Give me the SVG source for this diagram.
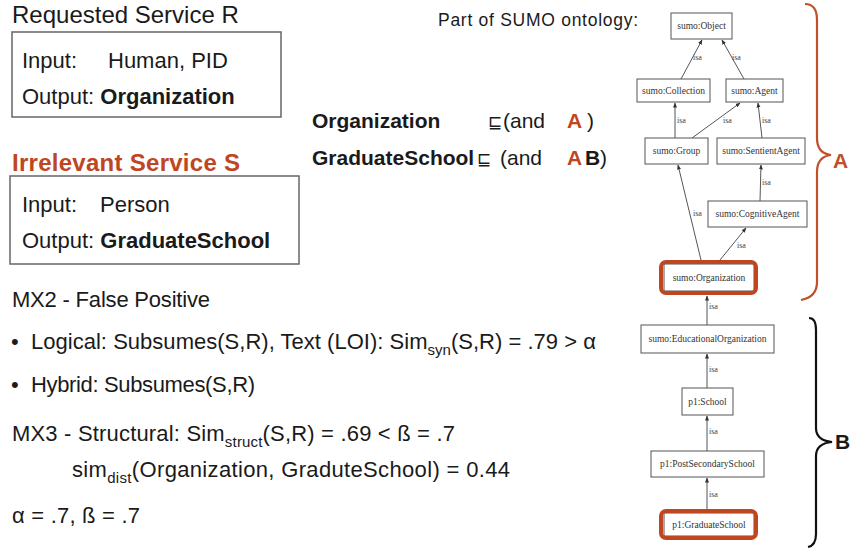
<svg xmlns="http://www.w3.org/2000/svg" width="851" height="550" viewBox="0 0 851 550">
  <defs>
    <marker id="arr" viewBox="0 0 10 10" refX="9" refY="5" markerWidth="5" markerHeight="5" orient="auto" markerUnits="userSpaceOnUse">
      <path d="M0,1 L10,5 L0,9 Z" fill="#333"/>
    </marker>
    <style>
      .t { font-family: "Liberation Sans", "DejaVu Sans", sans-serif; fill: #1a1a1a; }
      .b { font-weight: bold; }
      .red { fill: #c0461f; }
      .box { fill: #fff; stroke: #666; stroke-width: 1.5; }
      .node rect { fill: #fff; stroke: #555; stroke-width: 1; }
      .node rect.hl { fill: none; stroke: #c0461f; stroke-width: 4; }
      .node text { font-family: "Liberation Serif", "DejaVu Serif", serif; font-size: 9.5px; fill: #333; text-anchor: middle; }
      .edge { stroke: #555; stroke-width: 1; fill: none; marker-end: url(#arr); }
      .isa { font-family: "Liberation Serif", "DejaVu Serif", serif; font-size: 8px; fill: #444; }
      .sub { font-size: 15px; }
      .sq { font-family: "DejaVu Sans", sans-serif; font-size: 17px; fill: #1a1a1a; }
    </style>
  </defs>
  <rect width="851" height="550" fill="#fff"/>

  <!-- Requested service -->
  <g id="requested">
    <text class="t" x="12" y="23" font-size="24">Requested Service R</text>
    <rect class="box" x="12" y="32" width="269" height="85"/>
    <text class="t" x="22" y="68" font-size="22">Input:</text>
    <text class="t" x="108" y="68" font-size="22">Human, PID</text>
    <text class="t" x="22" y="104" font-size="22">Output: <tspan class="b">Organization</tspan></text>
  </g>

  <!-- Irrelevant service -->
  <g id="irrelevant">
    <text class="t b red" x="12" y="171" font-size="24" textLength="228">Irrelevant Service S</text>
    <rect class="box" x="10" y="176" width="289" height="88"/>
    <text class="t" x="22" y="212" font-size="22">Input:</text>
    <text class="t" x="100" y="212" font-size="22">Person</text>
    <text class="t" x="22" y="248" font-size="22">Output: <tspan class="b">GraduateSchool</tspan></text>
  </g>

  <!-- Subsumption axioms -->
  <g id="axioms">
    <text class="t b" x="312" y="128" font-size="21">Organization</text>
    <text class="sq" x="488" y="128">⊑</text>
    <text class="t" x="503" y="128" font-size="21">(and</text>
    <text class="t b red" x="567" y="128" font-size="21">A</text>
    <text class="t" x="587" y="128" font-size="21">)</text>
    <text class="t b" x="312" y="165" font-size="21">GraduateSchool</text>
    <text class="sq" x="477" y="165">⊑</text>
    <text class="t" x="500" y="165" font-size="21">(and</text>
    <text class="t b red" x="567" y="165" font-size="21">A</text>
    <text class="t b" x="585" y="165" font-size="21">B</text>
    <text class="t" x="600" y="165" font-size="21">)</text>
  </g>

  <!-- Matching results -->
  <g id="results">
    <text class="t" x="12" y="307" font-size="22" textLength="198">MX2 - False Positive</text>
    <text class="t" x="11" y="349" font-size="22">•</text>
    <text class="t" x="31" y="349" font-size="22" textLength="565">Logical: Subsumes(S,R), Text (LOI): Sim<tspan class="sub" dy="6">syn</tspan><tspan dy="-6">(S,R) = .79 &gt; α</tspan></text>
    <text class="t" x="11" y="392" font-size="22">•</text>
    <text class="t" x="31" y="392" font-size="22" textLength="224">Hybrid: Subsumes(S,R)</text>
    <text class="t" x="12" y="441" font-size="22" textLength="443">MX3 - Structural: Sim<tspan class="sub" dy="6">struct</tspan><tspan dy="-6">(S,R) = .69 &lt; ß = .7</tspan></text>
    <text class="t" x="72" y="477" font-size="22" textLength="438">sim<tspan class="sub" dy="6">dist</tspan><tspan dy="-6">(Organization, GraduteSchool) = 0.44</tspan></text>
    <text class="t" x="12" y="523" font-size="22" textLength="128">α = .7, ß = .7</text>
  </g>

  <text class="t" x="438" y="26" font-size="17.5" textLength="200">Part of SUMO ontology:</text>

  <!-- isa connectors -->
  <g id="connectors">
    <line class="edge" x1="681" y1="79" x2="702" y2="40"/>
    <line class="edge" x1="744" y1="79" x2="722" y2="40"/>
    <line class="edge" x1="675" y1="138" x2="675" y2="103"/>
    <line class="edge" x1="692" y1="138" x2="740" y2="103"/>
    <line class="edge" x1="762" y1="138" x2="758" y2="103"/>
    <line class="edge" x1="760" y1="201" x2="761" y2="165"/>
    <line class="edge" x1="701" y1="260" x2="678" y2="165"/>
    <line class="edge" x1="720" y1="260" x2="746" y2="228"/>
    <line class="edge" x1="707" y1="325" x2="707" y2="296"/>
    <line class="edge" x1="707" y1="388" x2="707" y2="354"/>
    <line class="edge" x1="707" y1="451" x2="707" y2="416"/>
    <line class="edge" x1="707" y1="509" x2="707" y2="478"/>
    <text class="isa" x="693" y="60">isa</text>
    <text class="isa" x="732" y="60">isa</text>
    <text class="isa" x="677" y="123">isa</text>
    <text class="isa" x="723" y="123">isa</text>
    <text class="isa" x="762" y="123">isa</text>
    <text class="isa" x="762" y="185">isa</text>
    <text class="isa" x="693" y="216">isa</text>
    <text class="isa" x="737" y="248">isa</text>
    <text class="isa" x="709" y="309">isa</text>
    <text class="isa" x="709" y="372">isa</text>
    <text class="isa" x="709" y="434">isa</text>
    <text class="isa" x="709" y="497">isa</text>
  </g>

  <!-- ontology nodes -->
  <g id="n-object" class="node"><rect x="671" y="13" width="61" height="26"/><text x="701.5" y="29">sumo:Object</text></g>
  <g id="n-collection" class="node"><rect x="637" y="79" width="73" height="23"/><text x="673.5" y="94">sumo:Collection</text></g>
  <g id="n-agent" class="node"><rect x="726" y="79" width="57" height="23"/><text x="754.5" y="94">sumo:Agent</text></g>
  <g id="n-group" class="node"><rect x="645" y="138" width="63" height="26"/><text x="676.5" y="154">sumo:Group</text></g>
  <g id="n-sentient" class="node"><rect x="717" y="138" width="88" height="26"/><text x="761" y="154">sumo:SentientAgent</text></g>
  <g id="n-cognitive" class="node"><rect x="708" y="201" width="99" height="26"/><text x="757.5" y="217">sumo:CognitiveAgent</text></g>
  <g id="n-organization" class="node"><rect x="664" y="264" width="90" height="27"/><rect class="hl" x="661" y="262" width="95" height="31" rx="5"/><text x="709" y="281">sumo:Organization</text></g>
  <g id="n-eduorg" class="node"><rect x="641" y="325" width="133" height="28"/><text x="707.5" y="342">sumo:EducationalOrganization</text></g>
  <g id="n-school" class="node"><rect x="682" y="388" width="51" height="27"/><text x="707.5" y="405">p1:School</text></g>
  <g id="n-postsec" class="node"><rect x="651" y="451" width="113" height="26"/><text x="707.5" y="467">p1:PostSecondarySchool</text></g>
  <g id="n-grad" class="node"><rect x="664" y="513" width="90" height="23"/><rect class="hl" x="661" y="511" width="95" height="27" rx="5"/><text x="709" y="528">p1:GraduateSchool</text></g>

  <!-- group braces -->
  <g id="brace-a">
    <path d="M805,4 C813,4 817,10 817,20 L817,138 C817,148 822,154 831,155 C822,156 817,162 817,172 L817,282 C817,292 812,298 801,300" fill="none" stroke="#c0502a" stroke-width="2.2"/>
    <text class="t b" x="833" y="168" font-size="21" style="fill:#c0502a">A</text>
  </g>
  <g id="brace-b">
    <path d="M809,318 C814,318 816,322 816,330 L816,428 C816,437 822,441 832,442 C822,443 816,447 816,456 L816,534 C816,542 813,546 808,547" fill="none" stroke="#111" stroke-width="2.2"/>
    <text class="t b" x="835" y="449" font-size="21">B</text>
  </g>
</svg>
